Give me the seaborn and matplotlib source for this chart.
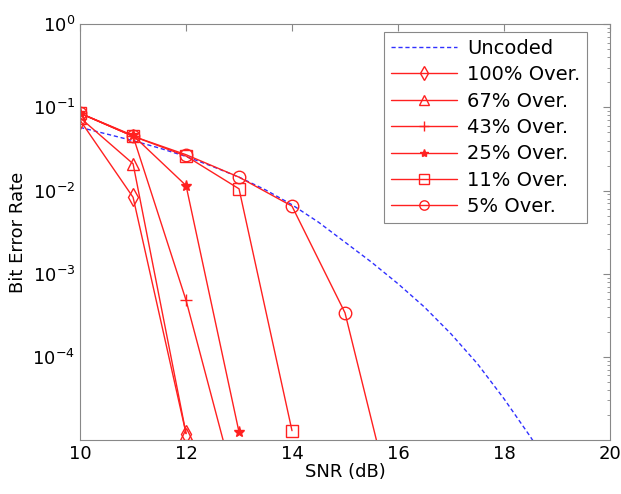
import numpy as np
import pandas as pd
import matplotlib
matplotlib.use("Agg")
import matplotlib.pyplot as plt
import seaborn as sns

# Uncoded BER curve (dashed blue)
snr_unc = [10, 10.5, 11, 11.5, 12, 12.5, 13, 13.5, 14, 14.5, 15, 15.5,
           16, 16.5, 17, 17.5, 18, 18.5, 19]
ber_unc = [0.0575, 0.0479, 0.0398, 0.0324, 0.0257, 0.0195, 0.0145, 0.0102,
           0.00676, 0.00417, 0.0024, 0.00138, 7.6e-4, 3.98e-4, 1.9e-4,
           8.3e-5, 3.16e-5, 1.1e-5, 3.5e-6]

# coded curves, one per oversampling rate
snr_100 = [10, 11, 12]
ber_100 = [0.07, 0.0083, 1.2e-5]
snr_67 = [10, 11, 12]
ber_67 = [0.075, 0.021, 1.2e-5]
snr_43 = [10, 11, 12, 13]
ber_43 = [0.085, 0.045, 4.8e-4, 1.9e-6]
snr_25 = [10, 11, 12, 13]
ber_25 = [0.085, 0.046, 0.0115, 1.25e-5]
snr_11 = [10, 11, 12, 13, 14]
ber_11 = [0.085, 0.045, 0.026, 0.0105, 1.3e-5]
snr_5 = [10, 11, 12, 13, 14, 15, 16]
ber_5 = [0.085, 0.045, 0.027, 0.0145, 0.0065, 3.4e-4, 9e-7]

labels = ["100% Over.", "67% Over.", "43% Over.", "25% Over.", "11% Over.", "5% Over."]
series = [(snr_100, ber_100), (snr_67, ber_67), (snr_43, ber_43),
          (snr_25, ber_25), (snr_11, ber_11), (snr_5, ber_5)]
markers = ["d", "^", "+", "*", "s", "o"]
filled = [False, False, True, True, False, False]

sns.set_style("white")
plt.rcParams["font.family"] = ["DejaVu Sans"]
plt.rcParams["text.color"] = "black"
plt.rcParams["axes.labelcolor"] = "black"
plt.rcParams["xtick.labelcolor"] = "black"
plt.rcParams["ytick.labelcolor"] = "black"
plt.rcParams["xtick.direction"] = "in"
plt.rcParams["ytick.direction"] = "in"

fig = plt.figure(figsize=(6.21, 4.94), dpi=100)
ax = fig.add_axes([0.129, 0.109, 0.853, 0.842])
ax.set_yscale("log")

red = "#ff2020"
sns.lineplot(x=snr_unc, y=ber_unc, ax=ax, color="#3030ff", lw=1.0,
             dashes=False, linestyle=(0, (3, 2)), label="Uncoded", sort=False)

for (x, y), lab, m, f in zip(series, labels, markers, filled):
    df = pd.DataFrame({"snr": x, "ber": y})
    sns.lineplot(data=df, x="snr", y="ber", ax=ax, color=red, lw=1.0,
                 marker=m, markersize=9 if m != "*" else 8,
                 markerfacecolor=red if f else "none",
                 markeredgecolor=red, markeredgewidth=1.0,
                 label=lab, sort=False)

ax.set_xlim(10, 20)
ax.set_ylim(1e-5, 1)
ax.set_xticks([10, 12, 14, 16, 18, 20])
ax.set_yticks([1e0, 1e-1, 1e-2, 1e-3, 1e-4])
ax.tick_params(axis="both", which="both", top=True, right=True,
               labelsize=13, color="#888888")
ax.tick_params(which="major", length=5)
ax.tick_params(which="minor", length=2.5)
for s in ax.spines.values():
    s.set_color("#888888")
    s.set_linewidth(0.8)

ax.set_xlabel("SNR (dB)", fontsize=13, labelpad=0)
ax.set_ylabel("Bit Error Rate", fontsize=13, labelpad=4)

leg = ax.legend(loc="upper right", fontsize=14, labelspacing=0.38,
                handlelength=3.4, handletextpad=0.5, borderpad=0.35,
                borderaxespad=0, fancybox=False, framealpha=1,
                markerscale=0.75, bbox_to_anchor=(0.957, 0.981))
leg.get_frame().set_edgecolor("#888888")
leg.get_frame().set_linewidth(0.8)

fig.savefig("out.png", dpi=100)
